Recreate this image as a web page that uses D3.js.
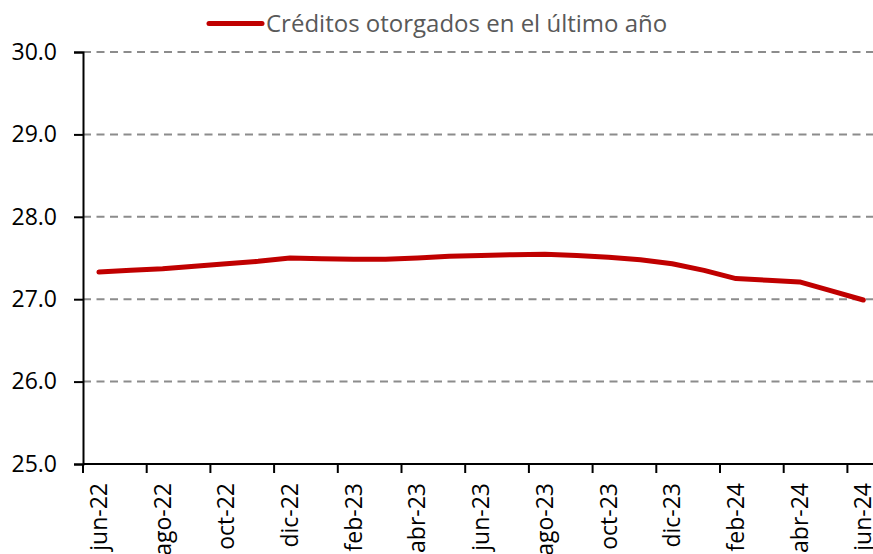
<!DOCTYPE HTML>
<html lang="es">
<head>
<meta charset="utf-8">
<title>Créditos otorgados en el último año</title>
<style>
html, body {
    margin: 0;
    background: #fff;
 }
svg text {
    font-family: "Open Sans", "Noto Sans", sans-serif;
 }
.grid line {
    stroke: #8c8c8c;
    stroke-width: 2;
    stroke-dasharray: 8 5.5;
 }
</style>
</head>
<body>

<svg id="chart" width="873" height="554"></svg>

<script src="https://cdnjs.cloudflare.com/ajax/libs/d3/7.8.5/d3.min.js"></script>
<script>
(function() {
   'use strict';

// Monthly categories, jun-22 .. jun-24
const months = [
  'jun-22', 'jul-22', 'ago-22', 'sep-22', 'oct-22', 'nov-22', 'dic-22',
  'ene-23', 'feb-23', 'mar-23', 'abr-23', 'may-23', 'jun-23', 'jul-23',
  'ago-23', 'sep-23', 'oct-23', 'nov-23', 'dic-23', 'ene-24', 'feb-24',
  'mar-24', 'abr-24', 'may-24', 'jun-24'
];

// Créditos otorgados en el último año
const creditos = [
  27.33, 27.35, 27.37, 27.40, 27.43, 27.46, 27.50,
  27.49, 27.485, 27.485, 27.50, 27.52, 27.53, 27.54,
  27.545, 27.53, 27.51, 27.48, 27.43, 27.35, 27.25,
  27.23, 27.21, 27.10, 26.99
];

const seriesName = 'Créditos otorgados en el último año';
const yTicks = [25, 26, 27, 28, 29, 30];
const labelEvery = 2;

// Layout
const left = 83;
const top = 52;
const bottom = 464;
const catWidth = 31.85;

const svg = d3.select('#chart');

const x = d3.scaleBand()
  .domain(months)
  .range([left, left + catWidth * months.length])
  .paddingInner(0)
  .paddingOuter(0);

const y = d3.scaleLinear()
  .domain([25, 30])
  .range([bottom, top]);

// Dashed gridlines
svg.append('g')
  .attr('class', 'grid')
  .selectAll('line')
  .data(yTicks.filter(d => d > 25))
  .enter()
  .append('line')
  .attr('x1', left)
  .attr('x2', 873)
  .attr('y1', d => y(d))
  .attr('y2', d => y(d));

// Y axis
const yAxis = svg.append('g')
  .attr('transform', 'translate(' + left + ',0)')
  .call(d3.axisLeft(y).tickValues(yTicks).tickFormat(d3.format('.1f')).tickSizeOuter(0).tickSize(9).tickPadding(17));
yAxis.select('.domain').attr('stroke', '#000').attr('stroke-width', 2);
yAxis.selectAll('.tick line').attr('stroke', '#000').attr('stroke-width', 2);
yAxis.selectAll('.tick text')
  .attr('font-size', 23)
  .attr('fill', '#000');

// X axis: tick marks on category boundaries, labels on every other category
const xAxis = svg.append('g')
  .attr('transform', 'translate(0,' + bottom + ')');
xAxis.append('line')
  .attr('x1', left)
  .attr('x2', 873)
  .attr('stroke', '#000')
  .attr('stroke-width', 2);
xAxis.selectAll('.xtick')
  .data(months.filter((d, i) => i % labelEvery === 0))
  .enter()
  .append('line')
  .attr('class', 'xtick')
  .attr('x1', d => x(d))
  .attr('x2', d => x(d))
  .attr('y1', 0)
  .attr('y2', 9)
  .attr('stroke', '#000')
  .attr('stroke-width', 2);
xAxis.selectAll('.xlabel')
  .data(months.filter((d, i) => i % labelEvery === 0))
  .enter()
  .append('text')
  .attr('class', 'xlabel')
  .attr('transform', d => 'translate(' + (x(d) + x.bandwidth() / 2 + 8) + ',19) rotate(-90)')
  .attr('text-anchor', 'end')
  .attr('font-size', 23)
  .attr('fill', '#000')
  .text(d => d);

// Series line
const line = d3.line()
  .x((d, i) => x(months[i]) + x.bandwidth() / 2)
  .y(d => y(d));

svg.append('path')
  .datum(creditos)
  .attr('fill', 'none')
  .attr('stroke', '#c00000')
  .attr('stroke-width', 5)
  .attr('stroke-linejoin', 'round')
  .attr('stroke-linecap', 'round')
  .attr('d', line);

// Legend
const legend = svg.append('g');
legend.append('line')
  .attr('x1', 209)
  .attr('x2', 262)
  .attr('y1', 23.5)
  .attr('y2', 23.5)
  .attr('stroke', '#c00000')
  .attr('stroke-width', 5)
  .attr('stroke-linecap', 'round');
legend.append('text')
  .attr('x', 266)
  .attr('y', 32)
  .attr('font-size', 24)
  .attr('fill', '#595959')
  .text(seriesName);

}());
</script>

</body>
</html>
